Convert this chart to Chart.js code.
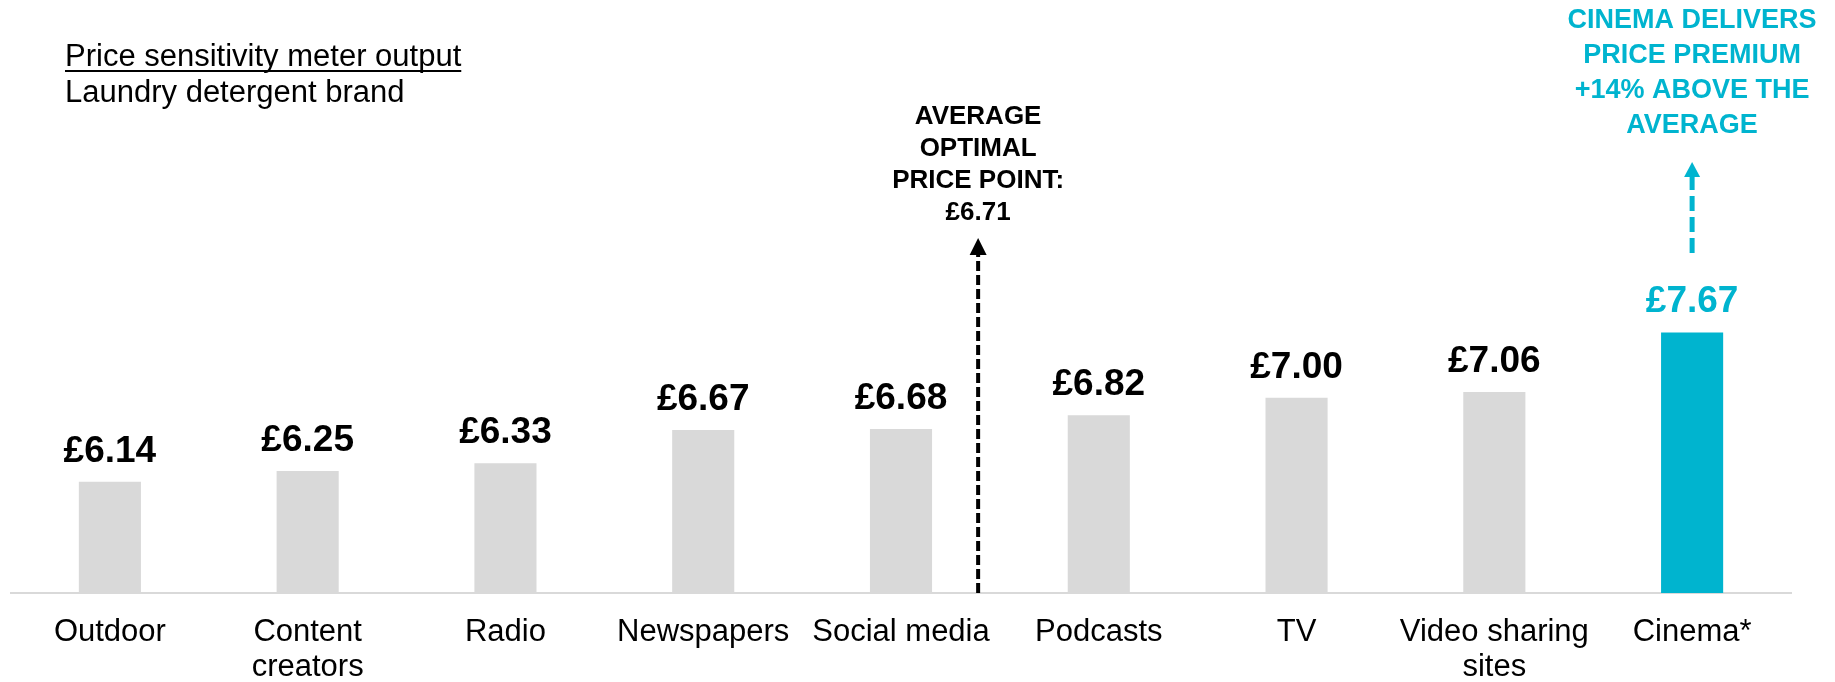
<!DOCTYPE html>
<html>
<head>
<meta charset="utf-8">
<script src="https://cdn.jsdelivr.net/npm/chart.js@4"></script>
<style>
  html, body { margin: 0; padding: 0; background: #fff; }
  #wrap { width: 1835px; height: 682px; position: relative; }
</style>
</head>
<body>
<div id="wrap"><canvas id="priceChart"></canvas></div>
<script>
// data
const categories = [['Outdoor'], ['Content', 'creators'], ['Radio'], ['Newspapers'], ['Social media'],
    ['Podcasts'], ['TV'], ['Video sharing', 'sites'], ['Cinema*']];
const prices = [6.14, 6.25, 6.33, 6.67, 6.68, 6.82, 7.00, 7.06, 7.67];
const averagePrice = 6.71;
const highlightIndex = 8;
const titleLines = ['Price sensitivity meter output', 'Laundry detergent brand'];
const averageNote = ['AVERAGE', 'OPTIMAL', 'PRICE POINT:', '£' + averagePrice.toFixed(2)];
const premiumNote = ['CINEMA DELIVERS', 'PRICE PREMIUM', '+14% ABOVE THE', 'AVERAGE'];

const GREY = '#D9D9D9';
const CYAN = '#00B4CF';
const FONT = '"Liberation Sans", Arial, sans-serif';

function drawDashedArrow(ctx, x, yBottom, yTip, headH, headW, lineW, dash, color) {
    ctx.save();
    ctx.strokeStyle = color;
    ctx.fillStyle = color;
    ctx.lineWidth = lineW;
    ctx.setLineDash(dash);
    ctx.beginPath();
    ctx.moveTo(x, yBottom);
    ctx.lineTo(x, yTip + headH);
    ctx.stroke();
    ctx.setLineDash([]);
    ctx.beginPath();
    ctx.moveTo(x, yTip);
    ctx.lineTo(x - headW / 2, yTip + headH);
    ctx.lineTo(x + headW / 2, yTip + headH);
    ctx.closePath();
    ctx.fill();
    ctx.restore();
}

function drawLines(ctx, lines, x, y0, step, font, color) {
    ctx.save();
    ctx.font = font;
    ctx.fillStyle = color;
    ctx.textAlign = 'center';
    ctx.textBaseline = 'alphabetic';
    lines.forEach((t, i) => ctx.fillText(t, x, y0 + i * step));
    ctx.restore();
}

const annotations = {
    id: 'annotations',
    afterDatasetsDraw(chart) {
        const ctx = chart.ctx;
        const xs = chart.scales.x;
        const ys = chart.scales.y;
        const meta = chart.getDatasetMeta(0);

        // value labels
        ctx.save();
        ctx.font = 'bold 37px ' + FONT;
        ctx.textAlign = 'center';
        ctx.textBaseline = 'alphabetic';
        meta.data.forEach((bar, i) => {
            ctx.fillStyle = i === highlightIndex ? CYAN : '#000';
            ctx.fillText('£' + prices[i].toFixed(2), bar.x, bar.y - 20);
        });
        ctx.restore();

        // title
        ctx.save();
        ctx.font = '31px ' + FONT;
        ctx.fillStyle = '#000';
        ctx.textAlign = 'left';
        ctx.fillText(titleLines[0], 65, 66);
        const w = ctx.measureText(titleLines[0]).width;
        ctx.fillRect(65, 70, w, 2);
        ctx.fillText(titleLines[1], 65, 102);
        ctx.restore();

        // average marker
        const avgX = xs.getPixelForValue(4.39);
        drawDashedArrow(ctx, avgX, ys.getPixelForValue(5), 238, 17, 17, 4, [10, 4], '#000');
        drawLines(ctx, averageNote, avgX, 124, 32, 'bold 26px ' + FONT, '#000');

        // cinema premium marker
        const cx = meta.data[highlightIndex].x;
        drawDashedArrow(ctx, cx, 253, 162, 15, 16, 5, [15, 6], CYAN);
        drawLines(ctx, premiumNote, cx, 28, 35, 'bold 27px ' + FONT, CYAN);
    }
};

new Chart(document.getElementById('priceChart'), {
    type: 'bar',
    data: {
        labels: categories,
        datasets: [{
            data: prices,
            backgroundColor: prices.map((_, i) => i === highlightIndex ? CYAN : GREY),
            categoryPercentage: 1,
            barPercentage: 0.314
        }]
    },
    options: {
        responsive: true,
        maintainAspectRatio: false,
        animation: false,
        layout: { padding: { left: 11, right: 44, top: 105, bottom: 0 } },
        plugins: {
            legend: { display: false },
            tooltip: { enabled: false }
        },
        scales: {
            y: { display: false, min: 5, max: 10 },
            x: {
                afterFit(scale) { scale.height = 89; },
                grid: { display: false, drawTicks: false },
                border: { display: true, color: GREY, width: 2 },
                ticks: {
                    color: '#000',
                    padding: 21,
                    maxRotation: 0,
                    autoSkip: false,
                    font: { family: FONT, size: 31, lineHeight: 1.16 }
                }
            }
        }
    },
    plugins: [annotations]
});
</script>
</body>
</html>
